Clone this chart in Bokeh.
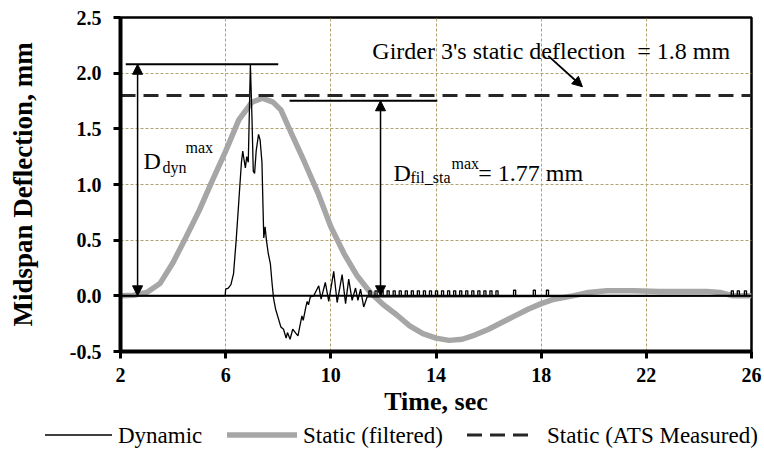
from bokeh.plotting import figure
from bokeh.layouts import column
from bokeh.models import (FixedTicker, PrintfTickFormatter, Span, Label, Arrow,
                          NormalHead, Range1d, Div)
from bokeh.embed import file_html
from bokeh.resources import INLINE

FONT = "Liberation Serif"

# ---------------- data ----------------
x_ticks = [2, 6, 10, 14, 18, 22, 26]
y_ticks = [-0.5, 0.0, 0.5, 1.0, 1.5, 2.0, 2.5]

dyn_t = [2.0, 5.98, 6.0, 6.1, 6.2, 6.3, 6.4, 6.5, 6.6, 6.65, 6.7, 6.75, 6.8, 6.86,
         6.94, 7.0, 7.05, 7.1, 7.16, 7.25, 7.31, 7.38, 7.42, 7.45, 7.5, 7.55, 7.62,
         7.7, 7.77, 7.82, 7.9, 8.0, 8.1, 8.2, 8.3, 8.35, 8.45, 8.55, 8.65, 8.75, 8.8,
         8.9, 8.95, 9.05, 9.1, 9.15, 9.22, 9.35, 9.54, 9.63, 9.79, 9.92, 10.11, 10.24,
         10.43, 10.56, 10.68, 10.81, 10.94, 11.03, 11.13, 11.25, 11.38, 26.0]
dyn_y = [0.0, 0.0, 0.06, 0.07, 0.1, 0.2, 0.5, 0.85, 1.2, 1.3, 1.22, 1.15, 1.25, 1.2,
         2.08, 1.6, 1.12, 1.1, 1.3, 1.45, 1.4, 1.2, 0.8, 0.52, 0.62, 0.5, 0.38,
         0.29, 0.1, -0.02, -0.12, -0.2, -0.28, -0.3, -0.38, -0.33, -0.39, -0.3, -0.33, -0.36, -0.3,
         -0.18, -0.22, -0.1, -0.05, -0.08, -0.01, 0.0, 0.09, -0.03, 0.12, -0.05, 0.22, -0.06,
         0.19, -0.07, 0.15, -0.04, 0.07, -0.04, 0.06, -0.1, -0.01, 0.0]

# small sensor pulses on the dynamic trace
pulse_t = [11.45, 11.68, 11.91, 12.14, 12.37, 12.6, 12.83, 13.06, 13.29, 13.52, 13.75,
           13.98, 14.21, 14.44, 14.67, 14.9, 15.13, 15.36, 15.59, 15.82, 16.05, 16.28,
           16.95, 17.7, 18.2, 25.23, 25.46, 25.73]
pulse_h = [0.045, 0.045, 0.045, 0.045, 0.045, 0.045, 0.045, 0.045, 0.045, 0.045, 0.045,
           0.045, 0.045, 0.045, 0.045, 0.045, 0.045, 0.045, 0.045, 0.045, 0.045, 0.045,
           0.05, 0.05, 0.05, 0.045, 0.045, 0.045]

sta_t = [2.0, 2.5, 3.0, 3.5, 4.0, 4.5, 5.0, 5.5, 6.0, 6.5, 7.0, 7.4, 7.8, 8.1, 8.5, 9.0,
         9.5, 10.0, 10.5, 11.0, 11.5, 12.0, 12.5, 13.0, 13.5, 14.0, 14.5, 15.0, 15.5,
         16.0, 16.5, 17.0, 17.5, 18.0, 18.5, 19.2, 19.8, 20.5, 21.5, 22.5, 23.5, 24.3,
         24.8, 25.3, 26.0]
sta_y = [0.0, 0.005, 0.03, 0.11, 0.3, 0.53, 0.77, 1.04, 1.3, 1.58, 1.74, 1.775, 1.74,
         1.67, 1.46, 1.2, 0.93, 0.62, 0.38, 0.18, 0.03, -0.08, -0.17, -0.27, -0.34,
         -0.38, -0.4, -0.39, -0.35, -0.3, -0.24, -0.18, -0.12, -0.07, -0.03, 0.0, 0.03,
         0.045, 0.045, 0.04, 0.04, 0.04, 0.03, 0.0, 0.0]

ats_value = 1.8
sta_label = 1.77
dyn_max = max(dyn_y)

series_names = ["Dynamic", "Static (filtered)", "Static (ATS Measured)"]
DYN_STYLE = dict(line_color="black", line_width=1.3)
STA_STYLE = dict(line_color="#a6a6a6", line_width=5.5)
ATS_STYLE = dict(line_color="#262626", line_width=3, line_dash="15 8")

# ---------------- main figure ----------------
p = figure(width=764, height=423, output_backend="svg", toolbar_location=None,
           x_range=Range1d(x_ticks[0], x_ticks[-1]),
           y_range=Range1d(y_ticks[0], y_ticks[-1]),
           min_border_left=120, min_border_right=13, min_border_top=17,
           min_border_bottom=72)
p.background_fill_color = "white"
p.border_fill_color = "white"
p.outline_line_color = "black"
p.outline_line_width = 2.5

# grid
grid_col = "#b0a26e"
p.xgrid.ticker = FixedTicker(ticks=x_ticks[1:-1])
p.ygrid.ticker = FixedTicker(ticks=[0.5, 1.0, 1.5, 2.0])
for g in (p.xgrid, p.ygrid):
    g.grid_line_color = grid_col
    g.grid_line_dash = "3 2"
    g.grid_line_width = 1

# axes
p.xaxis.ticker = FixedTicker(ticks=x_ticks)
p.yaxis.ticker = FixedTicker(ticks=y_ticks)
p.yaxis.formatter = PrintfTickFormatter(format="%.1f")
for ax in (p.xaxis, p.yaxis):
    ax.axis_line_width = 4
    ax.axis_line_color = "black"
    ax.major_tick_line_width = 3
    ax.major_tick_line_color = "black"
    ax.major_tick_out = 7
    ax.major_tick_in = 0
    ax.minor_tick_line_color = None
    ax.major_label_text_font = FONT
    ax.major_label_text_font_style = "bold"
    ax.major_label_text_font_size = "20px"
    ax.major_label_text_color = "black"
    ax.axis_label_text_font = FONT
    ax.axis_label_text_font_style = "bold"
    ax.axis_label_text_color = "black"
p.xaxis.axis_label_text_font_size = "26px"
p.yaxis.axis_label_text_font_size = "27px"
p.xaxis.major_label_standoff = 9
p.yaxis.major_label_standoff = 12
p.xaxis.axis_label = "Time, sec"
p.yaxis.axis_label = "Midspan Deflection, mm"
p.xaxis.axis_label_standoff = 2
p.yaxis.axis_label_standoff = 29

# zero line
p.add_layout(Span(location=0, dimension="width", line_color="black", line_width=2))

# series
p.line(sta_t, sta_y, **STA_STYLE)
p.line(dyn_t, dyn_y, **DYN_STYLE)
pw = 0.08
p.multi_line([[t, t, t + pw, t + pw] for t in pulse_t],
             [[0, h, h, 0] for h in pulse_h], **DYN_STYLE)
p.line([x_ticks[0], x_ticks[-1]], [ats_value, ats_value], **ATS_STYLE)

# annotations
head = dict(size=10, fill_color="black", line_color="black")
p.segment(x0=[2.2], y0=[dyn_max], x1=[8.0], y1=[dyn_max], line_color="black", line_width=2)
p.add_layout(Arrow(x_start=2.65, y_start=0, x_end=2.65, y_end=dyn_max,
                   line_color="black", line_width=1.5,
                   start=NormalHead(**head), end=NormalHead(**head)))
p.segment(x0=[8.43], y0=[1.752], x1=[14.05], y1=[1.752], line_color="black", line_width=2)
p.add_layout(Arrow(x_start=11.89, y_start=0, x_end=11.89, y_end=1.752,
                   line_color="black", line_width=1.5,
                   start=NormalHead(**head), end=NormalHead(**head)))
p.add_layout(Arrow(x_start=18.27, y_start=2.156, x_end=19.57, y_end=1.878,
                   line_color="black", line_width=1.8, end=NormalHead(**head)))


def lab(x, y, text, size):
    p.add_layout(Label(x=x, y=y, text=text, text_font=FONT, text_font_size=size,
                       text_color="black", text_baseline="alphabetic", text_align="left"))


lab(2.875, 1.213, "D", "24px")
lab(3.597, 1.150, "dyn", "16px")
lab(4.47, 1.33, "max", "16px")

lab(12.38, 1.105, "D", "24px")
lab(13.03, 1.06, "fil_sta", "16px")
lab(14.59, 1.186, "max", "16px")
lab(15.61, 1.105, "= %.2f mm" % sta_label, "24px")

lab(11.58, 2.201, "Girder 3's static deflection\u00a0 = %.1f mm" % ats_value, "24px")

# ---------------- legend strip (below the plot) ----------------
leg_glyph_x = [(45, 112), (227, 297), (467, 534)]
leg_text_x = [118, 303, 547]
styles = [DYN_STYLE, STA_STYLE, ATS_STYLE]
txt_css = "font-family: 'Liberation Serif', 'Times New Roman', serif; font-size: 23px; fill: black;"
parts = ['<svg xmlns="http://www.w3.org/2000/svg" width="764" height="26" style="display:block">']
for (x0, x1), tx, name, st in zip(leg_glyph_x, leg_text_x, series_names, styles):
    dash = ' stroke-dasharray="%s"' % st["line_dash"] if "line_dash" in st else ""
    parts.append('<line x1="%d" y1="12" x2="%d" y2="12" stroke="%s" stroke-width="%s"%s/>'
                 % (x0, x1, st["line_color"], st["line_width"], dash))
    parts.append('<text x="%d" y="20" style="%s">%s</text>' % (tx, txt_css, name))
parts.append("</svg>")
leg = Div(text="".join(parts), width=764, height=26, margin=0,
          styles={"padding": "0", "margin": "0", "overflow": "hidden"})

open("out.html", "w").write(file_html(column(p, leg, spacing=0), INLINE))
